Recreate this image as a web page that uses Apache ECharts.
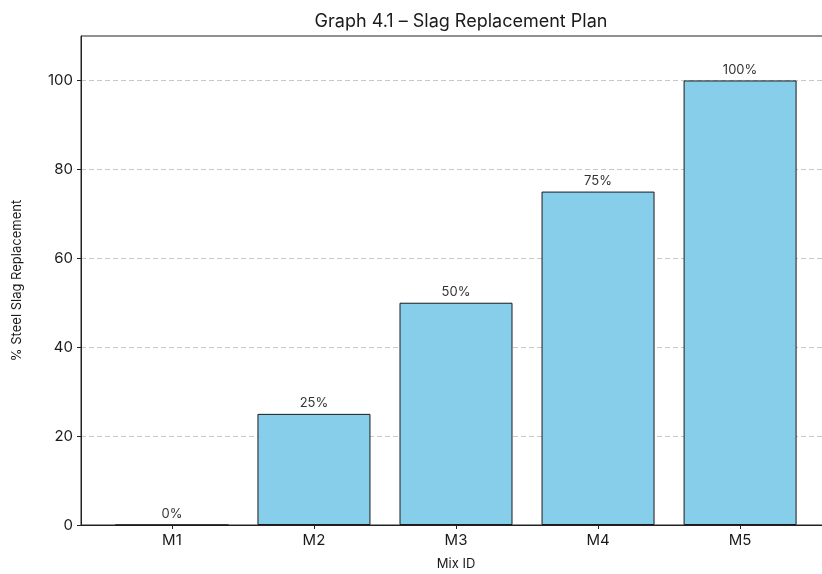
<!DOCTYPE html>
<html>
<head>
<meta charset="utf-8">
<script src="https://cdn.jsdelivr.net/npm/echarts@6/dist/echarts.min.js"></script>
<style>
  html, body { margin: 0; padding: 0; background: #fff; }
  #chart { width: 822px; height: 574px; }
</style>
</head>
<body>
<div id="chart"></div>
<script>
// Mix identifiers and their planned steel slag replacement (%)
const mixIds = ['M1', 'M2', 'M3', 'M4', 'M5'];
const replacement = [0, 25, 50, 75, 100];
const yTicks = [0, 20, 40, 60, 80, 100];

const font = 'Inter, "Noto Sans", sans-serif';
const positions = mixIds.map((_, i) => i);

const chart = echarts.init(document.getElementById('chart'), null, { renderer: 'canvas' });

chart.setOption({
  animation: false,
  backgroundColor: '#ffffff',
  title: {
    text: 'Graph 4.1 – Slag Replacement Plan',
    left: 456,
    textAlign: 'center',
    top: 8,
    textStyle: { fontFamily: font, fontSize: 18, fontWeight: 'normal', color: '#1a1a1a' }
  },
  grid: {
    left: 81, top: 36, width: 750, height: 489,
    containLabel: false,
    outerBoundsMode: 'none',
    show: true, borderColor: '#222', borderWidth: 1, backgroundColor: 'transparent'
  },
  xAxis: {
    type: 'value',
    min: -0.64, max: 4.64,
    name: 'Mix ID',
    nameLocation: 'middle',
    nameGap: 33,
    nameTextStyle: { fontFamily: font, fontSize: 13, color: '#1a1a1a' },
    axisLine: { show: true, onZero: false, lineStyle: { color: '#222', width: 1 } },
    axisTick: { show: true, customValues: positions, length: 4, lineStyle: { color: '#222' } },
    axisLabel: {
      customValues: positions,
      formatter: v => mixIds[Math.round(v)],
      margin: 8,
      fontFamily: font, fontSize: 15, color: '#1a1a1a'
    },
    splitLine: { show: false }
  },
  yAxis: {
    type: 'value',
    min: 0, max: 110, interval: 20,
    name: '% Steel Slag Replacement',
    nameLocation: 'middle',
    nameGap: 57,
    nameTextStyle: { fontFamily: font, fontSize: 13, color: '#1a1a1a' },
    axisLine: { show: true, onZero: false, lineStyle: { color: '#222', width: 1 } },
    axisTick: { show: true, customValues: yTicks, length: 4, lineStyle: { color: '#222' } },
    axisLabel: {
      customValues: yTicks,
      margin: 8,
      fontFamily: font, fontSize: 15, color: '#1a1a1a'
    },
    splitLine: { show: true, lineStyle: { color: '#c8c8c8', type: [5, 3], width: 1 } }
  },
  series: [{
    type: 'bar',
    data: mixIds.map((_, i) => [i, replacement[i]]),
    barWidth: 113,
    itemStyle: { color: '#87CEEB', borderColor: '#1a1a1a', borderWidth: 1 },
    label: {
      show: true,
      position: 'top',
      distance: 4,
      formatter: p => p.value[1] + '%',
      fontFamily: font, fontSize: 13, color: '#333'
    },
    z: 3
  }]
});
</script>
</body>
</html>
